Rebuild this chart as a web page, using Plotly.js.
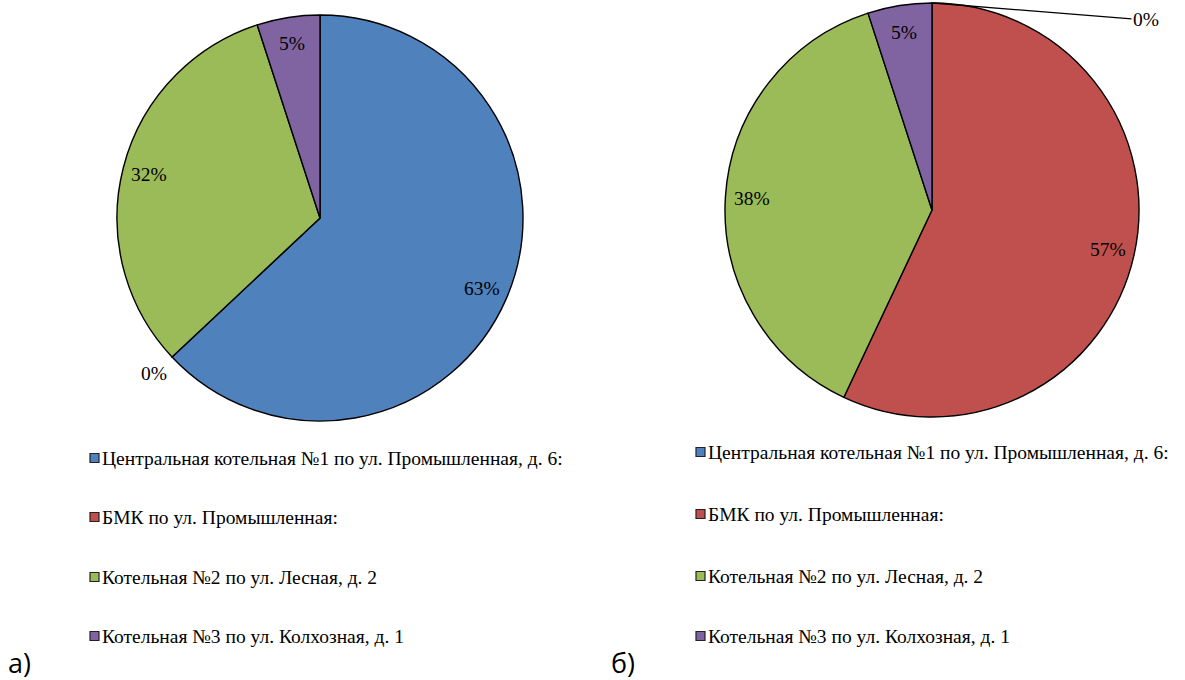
<!DOCTYPE html>
<html><head><meta charset="utf-8">
<script src="https://cdn.plot.ly/plotly-3.0.1.min.js"></script>
<style>body{margin:0;padding:0;background:#fff}#chart{width:1185px;height:680px}</style>
</head><body><div id="chart"></div>
<script>
const categories = ["Центральная котельная №1 по ул. Промышленная, д. 6:", "БМК по ул. Промышленная:", "Котельная №2 по ул. Лесная, д. 2", "Котельная №3 по ул. Колхозная, д. 1"];
const valuesA = [63, 0, 32, 5];
const valuesB = [0, 57, 38, 5];
const colors = ["#4F81BD", "#C0504D", "#9BBB59", "#8064A2"];
const panelLabels = ["а)", "б)"];

const W = 1185, H = 680;
const serif = "Liberation Serif";
const px = x => x / W, py = y => 1 - y / H;

const pies = [
  {values: valuesA, cx: 320, cy: 218, r: 203},
  {values: valuesB, cx: 932, cy: 210, r: 207}
];

function pieTrace(p) {
  return {
    type: "pie", values: p.values, labels: categories, sort: false, direction: "clockwise", rotation: 0,
    marker: {colors: colors, line: {color: "#000", width: 1.4}},
    textinfo: "none", showlegend: false, hoverinfo: "label+percent",
    domain: {x: [px(p.cx - p.r), px(p.cx + p.r)], y: [py(p.cy + p.r), py(p.cy - p.r)]}
  };
}
const data = pies.map(pieTrace);

const shapes = [], annotations = [];
const pctFont = {family: serif, size: 19.5, color: "#000"};

// percentage labels placed along each slice's mid-angle
pies.forEach((p, pi) => {
  const total = p.values.reduce((a, b) => a + b, 0);
  let cum = 0;
  p.values.forEach((v, i) => {
    const frac = v / total;
    const txt = Math.round(frac * 100) + "%";
    const th = 2 * Math.PI * (cum + frac / 2);
    cum += frac;
    if (v === 0) {
      if (pi === 0) {
        const rho = p.r * 1.12;
        annotations.push({xref: "paper", yref: "paper", x: px(p.cx + rho * Math.sin(th)), y: py(p.cy - rho * Math.cos(th)),
          xanchor: "center", yanchor: "middle", showarrow: false, text: txt, font: pctFont});
      } else {
        const tipX = p.cx + p.r * Math.sin(th), tipY = p.cy - p.r * Math.cos(th);
        annotations.push({xref: "paper", yref: "paper", x: px(tipX + 1), y: py(tipY),
          ax: 213, ay: 17, axref: "pixel", ayref: "pixel",
          showarrow: true, arrowhead: 0, arrowwidth: 1.3, arrowcolor: "#000", standoff: 0, startstandoff: 0,
          text: txt, font: pctFont});
      }
    } else {
      const rho = p.r * 0.87;
      annotations.push({xref: "paper", yref: "paper", x: px(p.cx + rho * Math.sin(th)), y: py(p.cy - rho * Math.cos(th)),
        xanchor: "center", yanchor: "middle", showarrow: false, text: txt, font: pctFont});
    }
  });
});

const legendCfg = [{x: 90, ys: [458, 517, 577, 636]}, {x: 696, ys: [452, 514, 576, 636]}];
legendCfg.forEach(cfg => {
  categories.forEach((c, i) => {
    const y = cfg.ys[i];
    shapes.push({type: "rect", xref: "paper", yref: "paper",
      x0: px(cfg.x), x1: px(cfg.x + 9), y0: py(y + 4.5), y1: py(y - 4.5),
      fillcolor: colors[i], line: {color: "#222", width: 1.2}});
    annotations.push({xref: "paper", yref: "paper", x: px(cfg.x + 10), y: py(y),
      xanchor: "left", yanchor: "middle", showarrow: false, text: c,
      font: {family: serif, size: 19.5, color: "#000"}});
  });
});
annotations.push({xref: "paper", yref: "paper", x: px(6), y: py(662), xanchor: "left", yanchor: "middle",
  showarrow: false, text: panelLabels[0], font: {family: "Open Sans", size: 27, color: "#000"}});
annotations.push({xref: "paper", yref: "paper", x: px(609), y: py(662), xanchor: "left", yanchor: "middle",
  showarrow: false, text: panelLabels[1], font: {family: "Open Sans", size: 27, color: "#000"}});

const layout = {
  width: W, height: H, margin: {l: 0, r: 0, t: 0, b: 0},
  paper_bgcolor: "#fff", plot_bgcolor: "#fff",
  shapes: shapes, annotations: annotations, showlegend: false
};
Plotly.newPlot("chart", data, layout, {displayModeBar: false, staticPlot: true});
</script></body></html>
